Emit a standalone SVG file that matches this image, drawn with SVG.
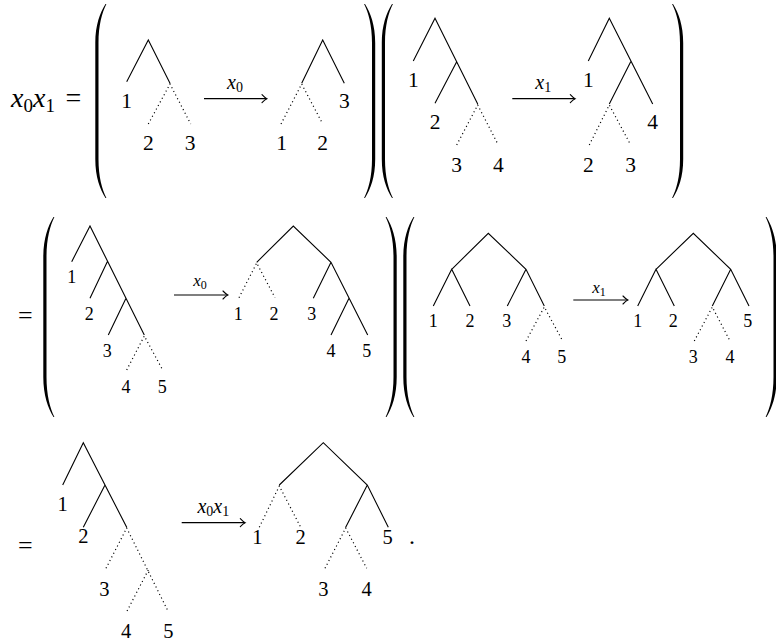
<svg xmlns="http://www.w3.org/2000/svg" width="776" height="641" viewBox="0 0 776 641">
<style>
  .s{fill:none;stroke:#000;stroke-width:1.1;stroke-linejoin:miter}
  .d{fill:none;stroke:#000;stroke-width:1.2;stroke-dasharray:1.1 3}
  .t{text-anchor:middle}
  .l1{font-size:21.5px}.l2{font-size:18px}.l3{font-size:20.5px}
  .i{font-style:italic}
  .ar{fill:none;stroke:#000;stroke-width:1.2}
</style>
<defs>
  <path id="lp" d="M8.5,0 C3,9 -1.7,22 -1.7,40 L-1.7,160 C-1.7,178 3,191 8.5,200 L9.4,200 C5,191 1.5,178 1.5,160 L1.5,40 C1.5,22 5,9 9.4,0 Z" fill="#000"/>
  <marker id="ah" markerUnits="userSpaceOnUse" markerWidth="12" markerHeight="12" viewBox="-6 -6 12 12" refX="0" refY="0" orient="auto" overflow="visible">
    <path d="M-4.5,-4 Q-1.5,-0.8 0.3,0 Q-1.5,0.8 -4.5,4" fill="none" stroke="#000" stroke-width="1.1" stroke-linecap="round"/>
  </marker>
</defs>
<g font-family="'Liberation Serif', 'DejaVu Serif', serif" fill="#000">

<!-- equation texts -->
<g id="eq1">
  <text x="11" y="107" font-size="28" font-family="'Liberation Serif', serif"><tspan class="i">x</tspan><tspan font-size="19" dy="4.5">0</tspan><tspan class="i" dy="-4.5">x</tspan><tspan font-size="19" dy="4.5">1</tspan></text>
  <text x="65.5" y="107" font-size="28" font-family="'Liberation Serif', serif">=</text>
</g>
<g id="eq2"><text x="18" y="324" font-size="26">=</text></g>
<g id="eq3"><text x="18" y="554" font-size="26">=</text><text x="409" y="544" font-size="24">.</text></g>

<!-- parentheses -->
<g id="parens">
  <use href="#lp" transform="translate(97,4) scale(1,0.97)"/>
  <use href="#lp" transform="translate(373.5,4) scale(-1,0.97)"/>
  <use href="#lp" transform="translate(383.5,4) scale(1,0.97)"/>
  <use href="#lp" transform="translate(681.5,4) scale(-1,0.97)"/>
  <use href="#lp" transform="translate(45,217)"/>
  <use href="#lp" transform="translate(395,217) scale(-1,1)"/>
  <use href="#lp" transform="translate(405,217)"/>
  <use href="#lp" transform="translate(775,217) scale(-1,1)"/>
</g>

<!-- row 1 -->
<g id="treeA">
  <path class="s" d="M126.7,81.7 L148.3,40 L170,83.3"/>
  <path class="d" d="M148.3,124 L170,84 L190.7,124"/>
  <text class="t l1" x="126.7" y="107.7">1</text>
  <text class="t l1" x="148.3" y="150">2</text>
  <text class="t l1" x="190" y="150">3</text>
</g>
<g id="treeB">
  <path class="s" d="M301.7,83.3 L322.7,40 L344.3,83.3"/>
  <path class="d" d="M281,124 L301.7,84 L322.7,124"/>
  <text class="t l1" x="344.3" y="107.7">3</text>
  <text class="t l1" x="281.7" y="150">1</text>
  <text class="t l1" x="322.7" y="150">2</text>
</g>
<g id="treeC">
  <path class="s" d="M413.3,61 L435,18.3 L477.7,104 M456.7,61.7 L435,103.3"/>
  <path class="d" d="M456.7,145 L477.7,105 L498.3,145"/>
  <text class="t l1" x="413.3" y="87.3">1</text>
  <text class="t l1" x="435" y="129.3">2</text>
  <text class="t l1" x="456.7" y="171.7">3</text>
  <text class="t l1" x="498.3" y="171.7">4</text>
</g>
<g id="treeD">
  <path class="s" d="M588.3,61 L609.3,18.3 L652.7,104 M630.7,61.7 L609.3,104"/>
  <path class="d" d="M589.3,145 L609.3,105 L630.7,145"/>
  <text class="t l1" x="588.3" y="87.3">1</text>
  <text class="t l1" x="652.7" y="129.3">4</text>
  <text class="t l1" x="588.3" y="171.7">2</text>
  <text class="t l1" x="630.7" y="171.7">3</text>
</g>

<!-- row 2 -->
<g id="treeE">
  <path class="s" d="M71.7,261.7 L90,226 L144.3,335 M107.3,261.7 L90,298.3 M126,298.3 L108.3,335"/>
  <path class="d" d="M126.7,370 L144.3,336 L162.7,370"/>
  <text class="t l2" x="71.7" y="283.3">1</text>
  <text class="t l2" x="89.3" y="320">2</text>
  <text class="t l2" x="107.3" y="356.7">3</text>
  <text class="t l2" x="126" y="392.7">4</text>
  <text class="t l2" x="162.3" y="392.7">5</text>
</g>
<g id="treeF">
  <path class="s" d="M256.7,262.3 L293.3,226 L331,262.3 L367.7,335 M331,262.3 L313.3,298.3 M349,298.3 L331,335"/>
  <path class="d" d="M239,297.7 L256.7,263 L275,297.7"/>
  <text class="t l2" x="238.3" y="320">1</text>
  <text class="t l2" x="274" y="320">2</text>
  <text class="t l2" x="311.7" y="320">3</text>
  <text class="t l2" x="331" y="356.7">4</text>
  <text class="t l2" x="366.7" y="356.7">5</text>
</g>
<g id="treeG">
  <path class="s" d="M433.3,306 L451.7,269.3 L470,306 M451.7,269.3 L488.3,233.3 L526,269.3 L544.3,306 M526,269.3 L507.3,306"/>
  <path class="d" d="M526,341 L544.3,307 L562.7,341"/>
  <text class="t l2" x="433.3" y="327.3">1</text>
  <text class="t l2" x="470" y="327.3">2</text>
  <text class="t l2" x="506.7" y="327.3">3</text>
  <text class="t l2" x="526" y="363.3">4</text>
  <text class="t l2" x="561.7" y="363.3">5</text>
</g>
<g id="treeH">
  <path class="s" d="M637.7,306 L656,269.3 L674.3,306 M656,269.3 L693.3,233.3 L730.7,269.3 L749,306 M730.7,269.3 L712.3,306"/>
  <path class="d" d="M694.3,341 L712.3,307 L730,341"/>
  <text class="t l2" x="637.7" y="327.3">1</text>
  <text class="t l2" x="673.3" y="327.3">2</text>
  <text class="t l2" x="747.7" y="327.3">5</text>
  <text class="t l2" x="693.3" y="363.3">3</text>
  <text class="t l2" x="730" y="363.3">4</text>
</g>

<!-- row 3 -->
<g id="treeI">
  <path class="s" d="M62.7,485 L83.3,442.7 L126.7,527.3 M105,485 L83.3,527.3"/>
  <path class="d" d="M106,568.3 L126.7,528 L168.3,611.7 M148.3,570 L126.7,611.7"/>
  <text class="t l3" x="62.7" y="510.7">1</text>
  <text class="t l3" x="83.3" y="543.3">2</text>
  <text class="t l3" x="104.3" y="596">3</text>
  <text class="t l3" x="126" y="638.3">4</text>
  <text class="t l3" x="168.3" y="638.3">5</text>
</g>
<g id="treeJ">
  <path class="s" d="M279.3,485 L323.3,442.7 L367.3,485 L388.3,527.3 M367.3,485 L345.7,527.3"/>
  <path class="d" d="M259.3,527.3 L279.3,486 L300.7,527.3 M325,568.3 L345.7,528 L366.7,568.3"/>
  <text class="t l3" x="257.3" y="544">1</text>
  <text class="t l3" x="300.7" y="544">2</text>
  <text class="t l3" x="387.7" y="544">5</text>
  <text class="t l3" x="323.3" y="596">3</text>
  <text class="t l3" x="366.7" y="596">4</text>
</g>

<!-- connectors -->
<g id="connectors">
  <path class="ar" d="M204,98.7 H266.5" marker-end="url(#ah)"/>
  <text class="t" x="235" y="89" font-size="20"><tspan class="i">x</tspan><tspan font-size="14" dy="3">0</tspan></text>
  <path class="ar" d="M512.3,98.7 H574.8" marker-end="url(#ah)"/>
  <text class="t" x="543.3" y="89" font-size="20"><tspan class="i">x</tspan><tspan font-size="14" dy="3">1</tspan></text>
  <path class="ar" d="M174,295 H227.5" marker-end="url(#ah)"/>
  <text class="t" x="200" y="286" font-size="17"><tspan class="i">x</tspan><tspan font-size="12" dy="2.5">0</tspan></text>
  <path class="ar" d="M573.3,300 H627.5" marker-end="url(#ah)"/>
  <text class="t" x="599" y="293" font-size="17"><tspan class="i">x</tspan><tspan font-size="12" dy="2.5">1</tspan></text>
  <path class="ar" d="M181.7,522.7 H244.8" marker-end="url(#ah)"/>
  <text class="t" x="213.3" y="513" font-size="20"><tspan class="i">x</tspan><tspan font-size="14" dy="3">0</tspan><tspan class="i" dy="-3">x</tspan><tspan font-size="14" dy="3">1</tspan></text>
</g>
</g>
</svg>
